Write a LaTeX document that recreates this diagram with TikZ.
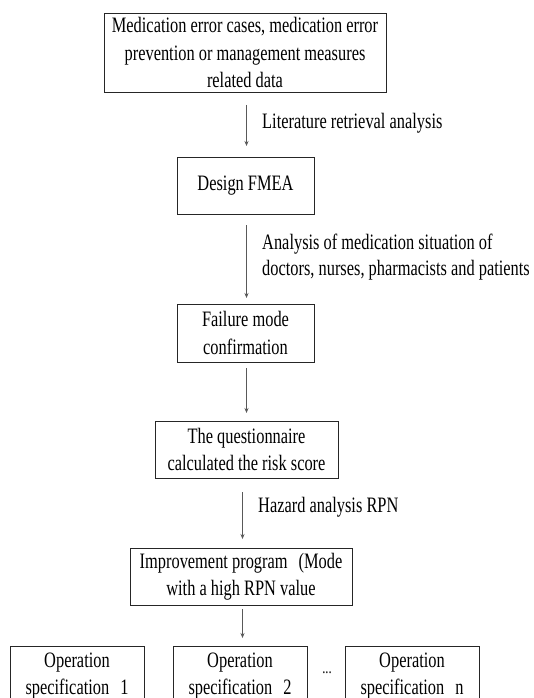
\documentclass[tikz,border=0pt]{standalone}
\usepackage{fontspec}
\setmainfont{Liberation Serif}[FakeStretch=0.745]
\usetikzlibrary{arrows.meta}
\begin{document}
\begin{tikzpicture}[x=1pt,y=-1pt,
  box/.style={draw=black!85,line width=0.9pt,inner sep=0pt,align=center,
    font=\fontsize{22}{27.5}\selectfont},
  lbl/.style={anchor=west,inner sep=0pt,align=left,font=\fontsize{22}{26}\selectfont},
  arr/.style={draw=black!65,line width=0.6pt,-{Stealth[length=5pt,width=4pt]}}]
\useasboundingbox (0,0) rectangle (533,698);
\begin{scope}
\clip (0,0) rectangle (533,698);
\node[box,minimum width=282pt,minimum height=79pt] (b1) at (245,52.5)
  {Medication error cases, medication error\\prevention or management measures\\related data};
\node[box,minimum width=137pt,minimum height=57pt] (b2) at (245.5,185.5) {Design FMEA};
\node[box,minimum width=137pt,minimum height=58pt] (b3) at (245.5,333) {Failure mode\\confirmation};
\node[box,minimum width=183pt,minimum height=57pt] (b4) at (246.5,449.5) {The questionnaire\\calculated the risk score};
\node[box,minimum width=222pt,minimum height=57pt] (b5) at (241,576.5) {Improvement program\enspace(Mode\\with a high RPN value};
\node[box,minimum width=134pt,minimum height=60pt] (o1) at (77,676) {Operation\\specification\enspace1};
\node[box,minimum width=134pt,minimum height=60pt] (o2) at (240,676) {Operation\\specification\enspace2};
\node[box,minimum width=134pt,minimum height=60pt] (o3) at (412,676) {Operation\\specification\enspace n};
\node[inner sep=0pt,font=\fontsize{17}{18}\selectfont] (dots) at (327,673) {...};

\coordinate (a1s) at (246.5,105); \coordinate (a1e) at (246.5,146);
\coordinate (a2s) at (246.5,225); \coordinate (a2e) at (246.5,298);
\coordinate (a3s) at (246.5,368); \coordinate (a3e) at (246.5,413);
\coordinate (a4s) at (242.5,492); \coordinate (a4e) at (242.5,539);
\coordinate (a5s) at (242.5,609); \coordinate (a5e) at (242.5,638);
\draw[arr] (a1s) -- (a1e);
\draw[arr] (a2s) -- (a2e);
\draw[arr] (a3s) -- (a3e);
\draw[arr] (a4s) -- (a4e);
\draw[arr] (a5s) -- (a5e);

\node[lbl] (l1) at (262,123) {Literature retrieval analysis};
\node[lbl] (l2) at (262,257) {Analysis of medication situation of\\doctors, nurses, pharmacists and patients};
\node[lbl] (l4) at (258,507) {Hazard analysis RPN};
\end{scope}
\end{tikzpicture}
\end{document}
